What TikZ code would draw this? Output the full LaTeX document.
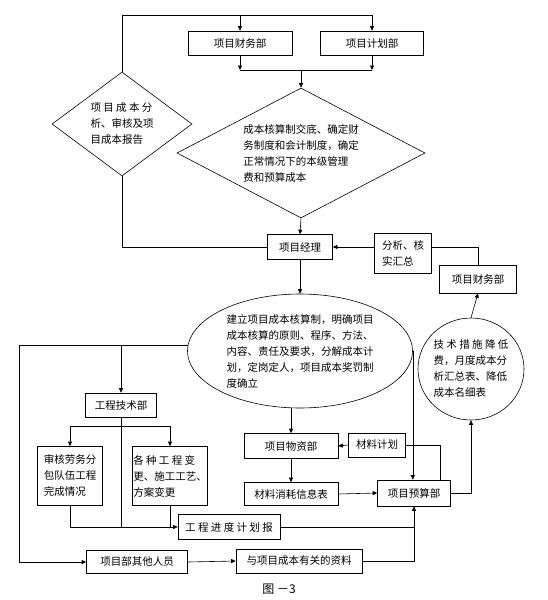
\documentclass[tikz,border=0pt]{standalone}
\usepackage{fontspec}
\setmainfont{Noto Sans CJK SC}
\usetikzlibrary{shapes.geometric, arrows.meta, positioning}

\begin{document}
\begin{tikzpicture}[x=1pt, y=-1pt, line width=0.6pt,
  font=\fontsize{10.5}{16}\selectfont,
  box/.style={draw, inner sep=1pt, align=left},
  arr/.style={-{Triangle[length=4.5pt,width=4pt]}}]
  \useasboundingbox (0,0) rectangle (548,600);

  % Top: the two departments and the decision diamonds
  \node[box, minimum width=104pt, minimum height=24pt] (fin) at (240,43) {项目财务部};
  \node[box, minimum width=103pt, minimum height=24pt] (plan) at (372,43) {项目计划部};
  \node[draw, shape=diamond, aspect=1.35, inner sep=1pt, align=left,
        minimum width=140pt, minimum height=104pt] (report) at (122,124)
        {项 目 成 本 分\\析、审核及项\\目成本报告};
  \node[draw, shape=diamond, aspect=1.9, inner sep=1pt, align=left,
        minimum width=248pt, minimum height=130pt] (rule) at (301,153)
        {成本核算制交底、确定财\\务制度和会计制度，确定\\正常情况下的本级管理\\费和预算成本};
  \coordinate (top) at (0,15);
  \coordinate (join) at (0,70);
  \draw[arr] (report.north) |- (top -| plan) -- (plan.north);
  \draw[arr] (top -| fin) -- (fin.north);
  \draw[arr] (fin.south) -- (fin.south |- join);
  \draw[arr] (plan.south) -- (plan.south |- join);
  \draw (fin.south |- join) -- (plan.south |- join);
  \draw[arr] (rule.north |- join) -- (rule.north);

  % Project manager and the feedback loop on the right
  \node[box, minimum width=65pt, minimum height=25pt] (pm) at (300,247) {项目经理};
  \node[box, minimum width=57pt, minimum height=40pt] (check) at (403,253) {分析、核\\实汇总};
  \node[box, minimum width=77pt, minimum height=28pt] (fin2) at (478,279) {项目财务部};
  \node[draw, shape=ellipse, inner sep=0pt, align=left,
        minimum width=106pt, minimum height=102pt] (cut) at (471,369)
        {技 术 措 施 降 低\\费，月度成本分\\析汇总表、降低\\成本名细表};
  \draw[arr] (rule.south) -- (pm.north);
  \draw (report.south) |- (pm.west);
  \draw[arr] (check.west |- pm.east) -- (pm.east);
  \draw (check.east |- pm.east) -| (fin2.north);
  \draw[arr] (cut.north) -- (fin2.south);

  % Central ellipse
  \node[draw, shape=ellipse, inner sep=0pt, align=left,
        minimum width=225pt, minimum height=114pt] (acct) at (300,351)
        {建立项目成本核算制，明确项目\\成本核算的原则、程序、方法、\\内容、责任及要求，分解成本计\\划，定岗定人，项目成本奖罚制\\度确立};
  \draw[arr] (pm.south) -- (acct.north);

  % Left branch: engineering department
  \node[box, minimum width=71pt, minimum height=24pt] (eng) at (121,405) {工程技术部};
  \node[box, minimum width=65pt, minimum height=59pt] (audit) at (70,476) {审核劳务分\\包队伍工程\\完成情况};
  \node[box, minimum width=74pt, minimum height=59pt] (change) at (170,476) {各~种~工~程~变\\更、施工工艺、\\方案变更};
  \node[box, minimum width=102pt, minimum height=25pt] (sched) at (229,527) {工 程 进 度 计 划 报};
  \node[box, minimum width=101pt, minimum height=23pt] (others) at (137,562) {项目部其他人员};
  \node[box, minimum width=126pt, minimum height=24pt] (docs) at (299,561) {与项目成本有关的资料};
  \coordinate (lft) at (19,0);
  \coordinate (fork) at (0,426);
  \draw[arr] (acct.177) -| (lft |- others) -- (others.west);
  \draw[arr] (eng.north |- acct.177) -- (eng.north);
  \draw[arr] (eng.south |- fork) -| (audit.north);
  \draw[arr] (eng.south |- fork) -| (change.north);
  \draw[arr] (audit.south) |- (sched.west);
  \draw (change.south) -- (change.south |- sched.west);
  \draw (eng.south) -- (eng.south |- sched.west);
  \draw[arr] (others.east) -- (docs.west);

  % Materials and budget
  \node[box, minimum width=94pt, minimum height=25pt] (mat) at (291,446) {项目物资部};
  \node[box, minimum width=57pt, minimum height=24pt] (mplan) at (377,445) {材料计划};
  \node[box, minimum width=94pt, minimum height=23pt] (usage) at (291,494) {材料消耗信息表};
  \node[box, minimum width=73pt, minimum height=26pt] (budget) at (414,493) {项目预算部};
  \draw[arr] (mat.north |- acct.south) -- (mat.north);
  \draw[arr] (mplan.west) -- (mat.east);
  \draw (mplan.east) -| ([xshift=26pt]budget.north);
  \draw[arr] (mat.south) -- (usage.north);
  \draw[arr] (usage.east) -- (budget.west);
  \draw[arr] (acct.east) -- (acct.east |- budget.north);
  \draw[arr] (budget.east) -| (cut.south);
  \draw[arr] (sched.east) -| (budget.south);
  \draw (docs.east) -| (budget.south);

  \node[font=\fontsize{12}{14}\selectfont] (cap) at (279,589) {图 －3};
\end{tikzpicture}
\end{document}
